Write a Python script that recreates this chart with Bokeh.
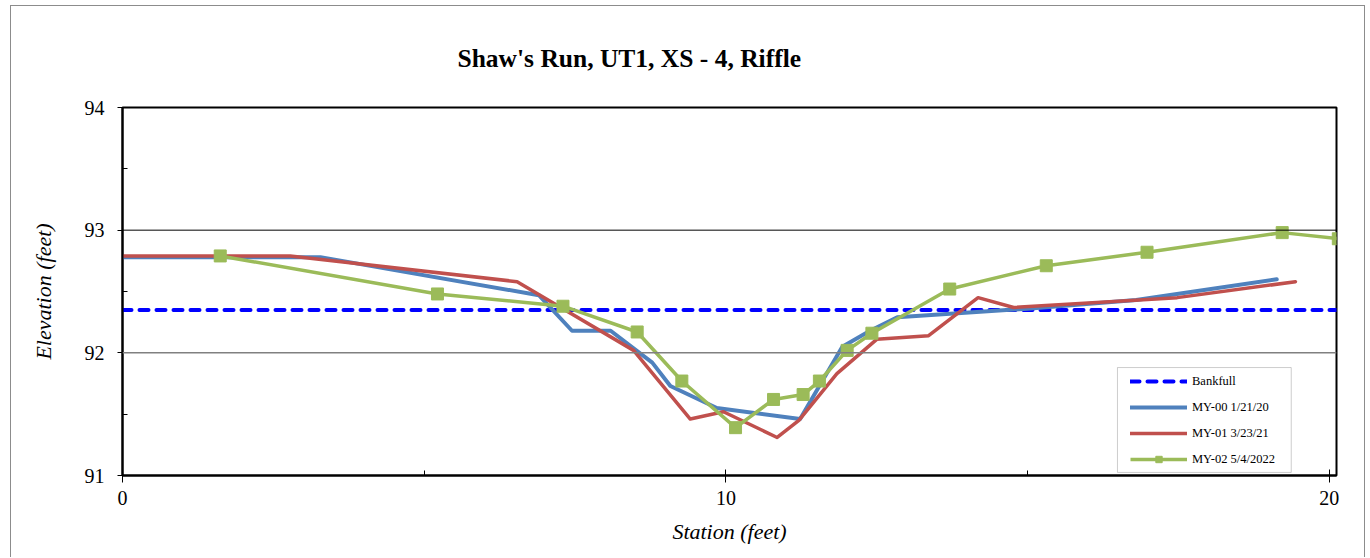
from bokeh.plotting import figure
from bokeh.models import Span, Legend, LegendItem, BoxAnnotation, Range1d, FixedTicker
from bokeh.embed import file_html
from bokeh.resources import INLINE

# ---- data ----
bankfull_x = [0.0, 20.15]
bankfull_y = [92.35, 92.35]

my00_x = [0.0, 3.28, 6.9, 7.45, 8.09, 8.78, 9.08, 9.85, 11.23, 11.93, 12.39, 12.84, 15.0, 16.8, 19.13]
my00_y = [92.78, 92.78, 92.47, 92.18, 92.18, 91.92, 91.73, 91.55, 91.46, 92.05, 92.18, 92.29, 92.36, 92.43, 92.60]

my01_x = [0.0, 2.78, 6.54, 8.47, 9.41, 9.96, 10.85, 11.21, 11.84, 12.5, 13.36, 14.18, 14.77, 17.48, 19.44]
my01_y = [92.79, 92.79, 92.58, 92.02, 91.46, 91.52, 91.31, 91.45, 91.83, 92.11, 92.14, 92.45, 92.37, 92.45, 92.58]

my02_x = [1.62, 5.22, 7.30, 8.53, 9.27, 10.16, 10.79, 11.28, 11.55, 12.01, 12.42, 13.71, 15.31, 16.98, 19.22, 20.15]
my02_y = [92.79, 92.48, 92.38, 92.17, 91.77, 91.39, 91.62, 91.66, 91.77, 92.02, 92.16, 92.52, 92.71, 92.82, 92.98, 92.93]

x_ticks = [0, 10, 20]
x_minor = [5, 15]
y_ticks = [91, 92, 93, 94]
y_minor = [91.5, 92.5, 93.5]

title_text = "Shaw's Run, UT1, XS - 4, Riffle"
x_label = "Station (feet)"
y_label = "Elevation (feet)"
labels = ["Bankfull", "MY-00 1/21/20", "MY-01 3/23/21", "MY-02 5/4/2022"]

SERIF = "Liberation Serif"

p = figure(width=1355, height=552, output_backend="svg", toolbar_location=None,
           x_range=Range1d(0, 20.12), y_range=Range1d(91, 94),
           min_border_left=111, min_border_right=30, min_border_top=101, min_border_bottom=83)
p.styles = {"border-left": "1px solid #8c8c8c", "border-top": "1px solid #8c8c8c",
            "border-right": "1px solid #8c8c8c", "margin-left": "10px", "margin-top": "5px"}

p.title.text = title_text
p.title.text_font = SERIF
p.title.text_font_style = "bold"
p.title.text_font_size = "25.5px"
p.title.text_color = "black"
p.title.align = "left"
p.title.vertical_align = "middle"
p.title.offset = 335
p.title.standoff = 68

p.outline_line_color = "black"
p.outline_line_width = 2
p.xgrid.visible = False
p.ygrid.visible = False

p.add_layout(Span(location=93, dimension="width", line_color="black", line_width=1))
p.add_layout(Span(location=92, dimension="width", line_color="#808080", line_width=1.5))

for ax in (p.xaxis[0], p.yaxis[0]):
    ax.axis_line_color = "black"
    ax.axis_line_width = 2
    ax.major_tick_line_color = "black"
    ax.minor_tick_line_color = "black"
    ax.major_label_text_font = SERIF
    ax.major_label_text_font_size = "20px"
    ax.major_label_text_color = "black"
    ax.axis_label_text_font = SERIF
    ax.axis_label_text_font_style = "italic"
    ax.axis_label_text_font_size = "22px"
    ax.axis_label_text_color = "black"

p.xaxis.ticker = FixedTicker(ticks=x_ticks, minor_ticks=x_minor)
p.yaxis.ticker = FixedTicker(ticks=y_ticks, minor_ticks=y_minor)
p.xaxis.major_tick_in = 6
p.xaxis.major_tick_out = 7
p.xaxis.minor_tick_in = 5
p.xaxis.minor_tick_out = 0
p.yaxis.major_tick_in = 0
p.yaxis.major_tick_out = 5
p.yaxis.minor_tick_in = 5
p.yaxis.minor_tick_out = 0
p.xaxis.major_label_standoff = 8
p.yaxis.major_label_standoff = 13
p.xaxis.axis_label = x_label
p.yaxis.axis_label = y_label
p.xaxis.axis_label_standoff = 11
p.yaxis.axis_label_standoff = 26

r_bf = p.line(bankfull_x, bankfull_y, line_color="#0000FF", line_width=4,
              line_dash="9 8", line_cap="round")
r0 = p.line(my00_x, my00_y, line_color="#4F81BD", line_width=4, line_join="round", line_cap="round")
r1 = p.line(my01_x, my01_y, line_color="#C0504D", line_width=3.5, line_join="round", line_cap="round")
r2 = p.line(my02_x, my02_y, line_color="#9BBB59", line_width=3.5, line_join="round")
r2m = p.scatter(my02_x, my02_y, marker="square", size=12, fill_color="#9BBB59",
                line_color="#9BBB59")

box = BoxAnnotation(left=16.49, right=19.37, top=91.88, bottom=91.025,
                    fill_color="white", fill_alpha=1, line_color="#595959", line_width=1)
p.add_layout(box)

legend = Legend(items=[LegendItem(label=labels[0], renderers=[r_bf]),
                       LegendItem(label=labels[1], renderers=[r0]),
                       LegendItem(label=labels[2], renderers=[r1]),
                       LegendItem(label=labels[3], renderers=[r2, r2m])],
                location=(1008, 8))
legend.label_text_font = SERIF
legend.label_text_font_size = "12.5px"
legend.label_text_color = "black"
legend.glyph_width = 57
legend.glyph_height = 16
legend.label_height = 16
legend.spacing = 10
legend.padding = 0
legend.margin = 0
legend.label_standoff = 5
legend.border_line_alpha = 0
legend.background_fill_alpha = 0
p.add_layout(legend, "center")

open("out.html", "w").write(file_html(p, INLINE))
